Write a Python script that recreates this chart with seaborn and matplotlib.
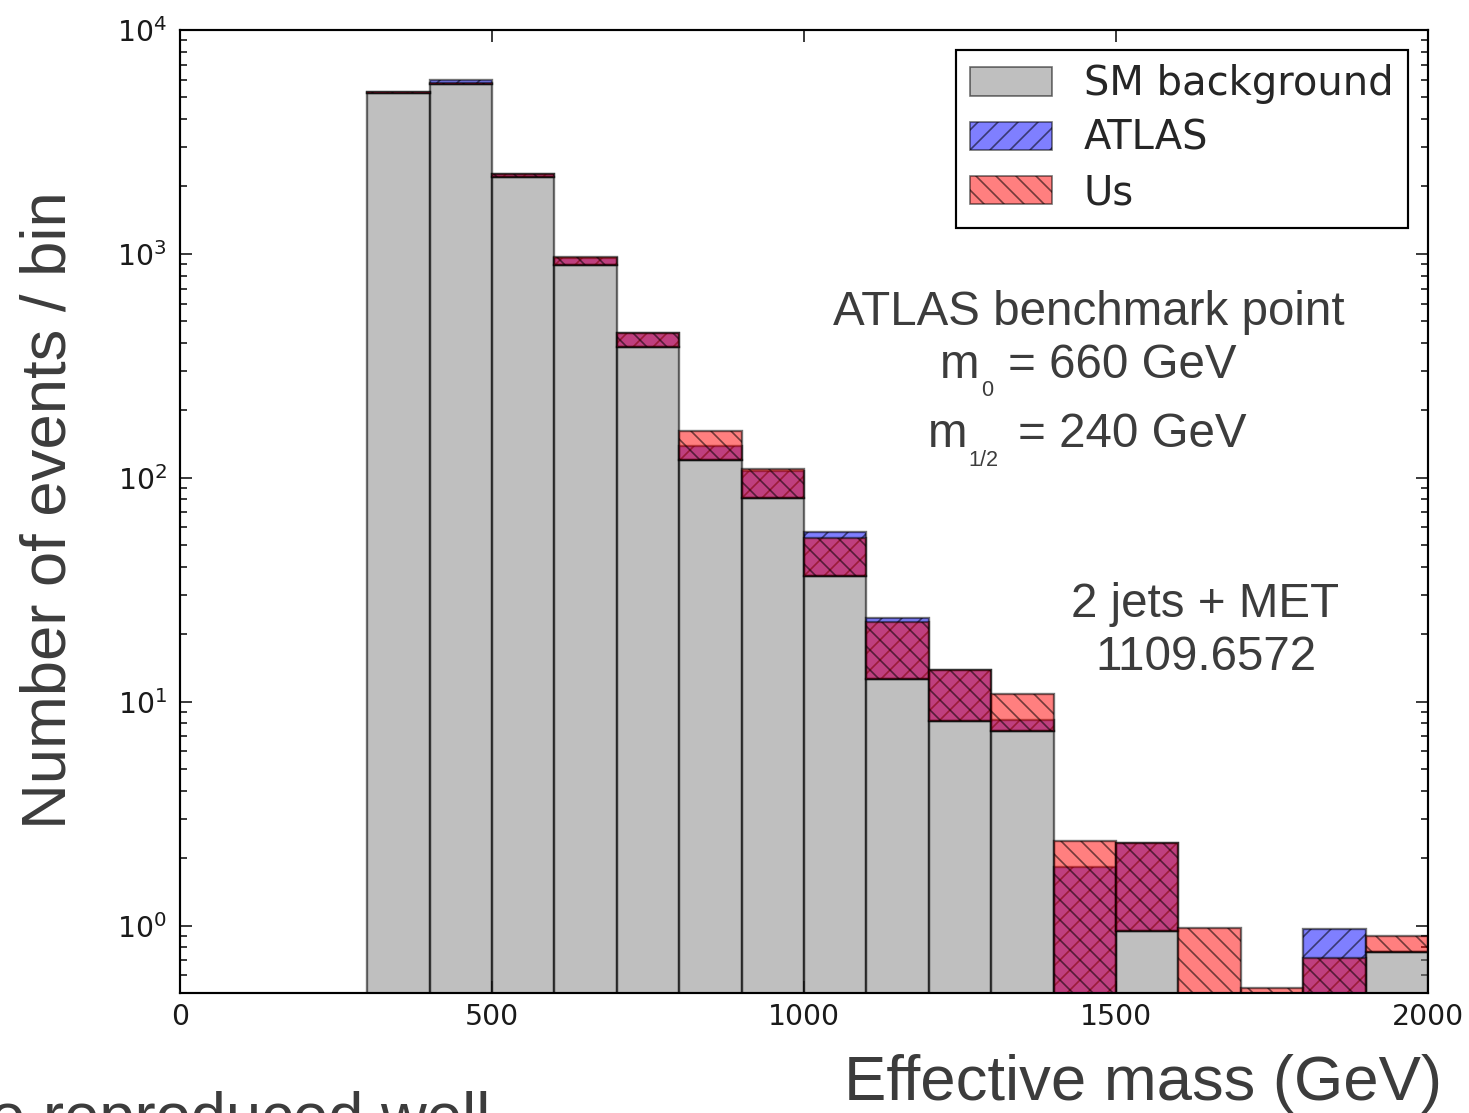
import numpy as np
import matplotlib
matplotlib.use("Agg")
import matplotlib.pyplot as plt
from matplotlib.patches import Patch
import seaborn as sns

# ---- data ----
bin_edges = list(range(300, 2001, 100))
sm_background = [5240, 5720, 2210, 893, 382, 120, 81, 36.3, 12.6, 8.2, 7.37, 0, 0.95, 0, 0, 0, 0.76]
atlas_signal = [25, 260, 55, 70, 60, 18, 26, 21, 11, 5.6, 0.9, 1.83, 1.39, 0, 0, 0.97, 0]
us_signal = [20, 50, 55, 80, 60, 41, 28, 17.5, 10.1, 5.6, 3.4, 2.38, 1.39, 0.98, 0.527, 0.72, 0.136]
series_labels = ["SM background", "ATLAS", "Us"]
x_ticks = [0, 500, 1000, 1500, 2000]

W, H, DPI = 1469, 1113, 120

sns.set_style("ticks")
plt.rcParams["font.family"] = ["DejaVu Sans"]
plt.rcParams["hatch.linewidth"] = 1.0

fig = plt.figure(figsize=(W / DPI, H / DPI), dpi=DPI)
ax = fig.add_axes([180 / W, 1 - 993 / H, (1428 - 180) / W, (993 - 30) / H])
ax.set_yscale("log")

edges = np.array(bin_edges, dtype=float)
centers = (edges[:-1] + edges[1:]) / 2
widths = np.diff(edges)
sm = np.array(sm_background)

edge_col = (0, 0, 0, 0.55)
lw = 1.4
sns.histplot(x=list(centers), weights=list(sm), bins=list(bin_edges), color="gray", alpha=0.5,
             edgecolor=edge_col, linewidth=lw, ax=ax)
ax.bar(edges[:-1], atlas_signal, width=widths, bottom=sm, align="edge",
       facecolor=(0, 0, 1, 0.5), edgecolor=edge_col, hatch="//", linewidth=lw)
ax.bar(edges[:-1], us_signal, width=widths, bottom=sm, align="edge",
       facecolor=(1, 0, 0, 0.5), edgecolor=edge_col, hatch="\\\\", linewidth=lw)

ax.set_xlim(0, 2000)
ax.set_ylim(0.5, 1e4)
ax.set_xticks(x_ticks)
ax.set_xticklabels([str(t) for t in x_ticks])

for s in ax.spines.values():
    s.set_visible(True)
    s.set_linewidth(1.3)
    s.set_color("black")
ax.tick_params(which="both", direction="in", top=True, right=True, colors="black")
ax.tick_params(which="major", length=7, width=0.9, labelsize=17, pad=6)
ax.tick_params(which="minor", length=4, width=0.9)
ax.tick_params(axis="y", which="major", pad=8)
ax.tick_params(axis="x", which="minor", bottom=False, top=False)
for lab in ax.get_xticklabels() + ax.get_yticklabels():
    lab.set_color("#1a1a1a")

lab_font = ["Liberation Sans", "DejaVu Sans"]
txt_col = "#3c3c3c"
ax.set_xlabel("Effective mass (GeV)", fontsize=38, family=lab_font, color=txt_col,
              ha="right", va="baseline")
ax.xaxis.set_label_coords((1442 - 180) / 1248, (993 - 1100) / 963)
ax.set_ylabel("Number of events / bin", fontsize=38, family=lab_font, color=txt_col,
              va="baseline")
ax.yaxis.set_label_coords((66 - 180) / 1248, (993 - 510) / 963)

handles = [
    Patch(facecolor=(0.5, 0.5, 0.5, 0.5), edgecolor=edge_col),
    Patch(facecolor=(0, 0, 1, 0.5), edgecolor=edge_col, hatch="//"),
    Patch(facecolor=(1, 0, 0, 0.5), edgecolor=edge_col, hatch="\\\\"),
]
leg = ax.legend(handles, series_labels, loc="upper right", fontsize=24,
                fancybox=False, framealpha=1, handlelength=2.05, handleheight=0.72,
                borderaxespad=0.5, handletextpad=0.8, labelspacing=0.36,
                borderpad=0.36)
leg.get_frame().set_edgecolor("black")
leg.get_frame().set_linewidth(1.3)


def ftxt(x, y, s, size, **kw):
    fig.text(x / W, 1 - y / H, s, fontsize=size, family=lab_font, color=txt_col,
             va="baseline", **kw)


ftxt(1089, 325, "ATLAS benchmark point", 28.5, ha="center")
ftxt(940, 378, "m", 28.5, ha="left")
ftxt(981, 396, "0", 13, ha="left")
ftxt(1008, 378, "= 660 GeV", 28.5, ha="left")
ftxt(928, 447, "m", 28.5, ha="left")
ftxt(968, 466, "1/2", 13, ha="left")
ftxt(1018, 447, "= 240 GeV", 28.5, ha="left")
ftxt(1205, 617, "2 jets + MET", 28.5, ha="center")
ftxt(1206, 670, "1109.6572", 28.5, ha="center")
ftxt(490, 1137, "e reproduced well", 38, ha="right")

fig.savefig("out.png", dpi=DPI)
